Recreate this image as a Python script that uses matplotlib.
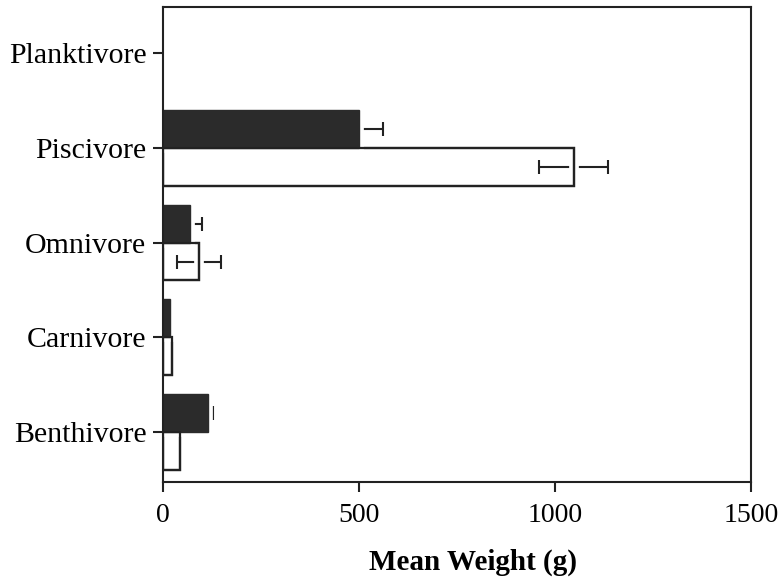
import numpy as np
import matplotlib
matplotlib.use('Agg')
import matplotlib.pyplot as plt
import matplotlib.patheffects as pe

# data
groups = ['Benthivore', 'Carnivore', 'Omnivore', 'Piscivore', 'Planktivore']
dark_mean = [115, 18, 69, 500, np.nan]
dark_err = [13, 0, 31, 62, np.nan]
white_mean = [43, 23, 92, 1048, np.nan]
white_err = [0, 0, 55, 88, np.nan]
xticks = [0, 500, 1000, 1500]

plt.rcParams['font.family'] = ['Liberation Serif', 'DejaVu Serif']

fig = plt.figure(figsize=(7.82, 5.87), dpi=100)
ax = fig.add_axes([0.2084, 0.179, 0.752, 0.809])

y = np.arange(len(groups))
h = 0.40
dm = np.array(dark_mean, float)
de = np.array(dark_err, float)
wm = np.array(white_mean, float)
we = np.array(white_err, float)
ok = ~np.isnan(dm)
halo = [pe.Stroke(linewidth=7, foreground='white'), pe.Normal()]

# white bar fill, then error bars, then edges with a white halo (gap at the bar end)
ax.barh(y[ok] - h / 2, wm[ok], height=h, color='white', linewidth=0, zorder=1)

for yy, m, e in zip(y[ok] + h / 2, dm[ok], de[ok]):
    if e > 0:
        ax.errorbar(m, yy, xerr=e, fmt='none', ecolor='#222222', elinewidth=1.5,
                    capsize=5, capthick=1.5, zorder=2)
for yy, m, e in zip(y[ok] - h / 2, wm[ok], we[ok]):
    if e > 0:
        ax.errorbar(m, yy, xerr=e, fmt='none', ecolor='#222222', elinewidth=1.5,
                    capsize=5, capthick=1.5, zorder=2)

ax.barh(y[ok] - h / 2, wm[ok], height=h, fill=False, edgecolor='#222222',
        linewidth=1.6, zorder=3, path_effects=halo)
ax.barh(y[ok] + h / 2, dm[ok], height=h, color='#2b2b2b', edgecolor='#2b2b2b',
        linewidth=1, zorder=4, path_effects=halo)
ax.barh(y[ok] - h / 2, wm[ok], height=h, fill=False, edgecolor='#222222',
        linewidth=1.6, zorder=5)

ax.set_xlim(0, 1500)
ax.set_ylim(-0.53, 4.49)
ax.set_xticks(xticks)
ax.set_xticklabels([str(t) for t in xticks], fontsize=20)
ax.set_yticks(y)
ax.set_yticklabels(groups, fontsize=21.5)
ax.tick_params(axis='both', direction='out', length=7, width=1.5, color='#222222')
ax.tick_params(axis='x', pad=8)
ax.tick_params(axis='y', pad=5)
for s in ax.spines.values():
    s.set_linewidth(1.5)
    s.set_color('#222222')
    s.set_zorder(6)

ax.set_xlabel('Mean Weight (g)', fontsize=21, fontweight='bold')
ax.xaxis.set_label_coords(0.527, -0.14, transform=ax.transAxes)
ax.xaxis.label.set_verticalalignment('top')

fig.savefig('out.png', dpi=100)
